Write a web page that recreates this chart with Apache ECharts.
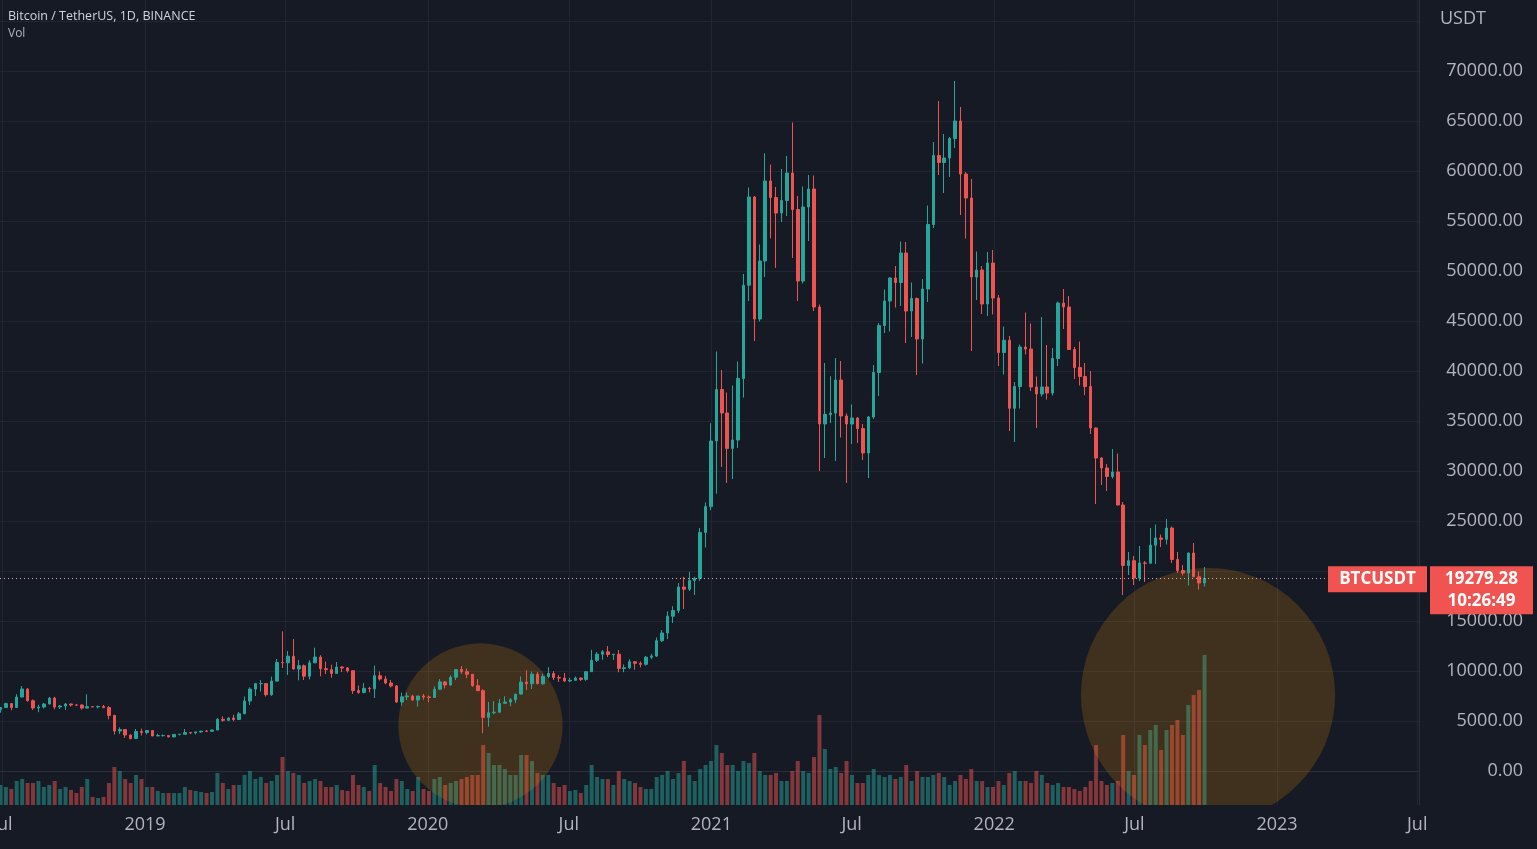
<!DOCTYPE html>
<html><head><meta charset="utf-8">
<script src="https://cdn.jsdelivr.net/npm/echarts@6/dist/echarts.min.js"></script>
<style>html,body{margin:0;padding:0;background:#161a25;overflow:hidden}#c{width:1537px;height:849px}</style>
</head><body><div id="c"></div>
<script>
// Weekly candles (Binance BTC/USDT), week starting 2018-06-25 (Mondays)
const firstWeek = '2018-06-25';
const opens = [
6150,6350,6740,6350,7400,8200,7030,6300,6400,6700,7290,6400,6500,6700,6600,6590,6290,6430,6410,6450,6340,5560,4000,4140,3600,3250,3950,3850,
4050,3510,3540,3540,3410,3660,3670,3840,3810,3910,3990,3970,4100,5170,5070,5300,5150,5720,7000,8190,8730,8740,7630,8990,10850,10820,11480,10200,10530,9480,10820,11390,10230,10140,9760,10400,10300,10030,8040,7860,8270,8220,9530,9200,8800,8500,6900,7420,7500,7100,7500,7400,
7350,8180,8910,8600,9380,10150,9930,9670,8530,8030,5360,5830,5880,6770,6900,7120,7690,8890,8730,9680,8720,9450,9750,9340,9300,9000,9070,9300,9160,9930,11070,11680,11920,11650,11680,10250,10320,10920,10770,10670,11380,11500,13030,13800,15480,16050,18400,18180,19050,19270,23860,26440,
33000,38150,35800,32260,33100,39250,48580,57400,45200,51000,59000,57350,55800,57050,59800,56150,49000,56400,58200,46400,34700,35650,35800,39100,35500,34700,35300,34250,31800,35400,39850,44550,47000,49300,48850,51800,46000,47250,43200,48200,54650,61550,60850,61300,63250,65000,59700,57300,49400,50100,46700,50800,
47300,41850,43080,36270,38450,42400,42200,38400,37700,38400,37800,41250,46800,46400,42150,40350,39450,38450,34300,31300,30300,29450,29900,26600,20550,21030,19300,20800,20780,22580,23300,23170,24300,21150,20050,19800,21800,19420,18800];
const highs = [
6390,6840,6780,7690,8500,8280,7150,6620,6800,7410,7420,6590,6800,6750,6670,6700,7680,6500,6540,6600,6500,5620,4360,4190,3660,4200,4240,4100,
4100,3730,3660,3560,3700,3700,4200,3880,3920,4000,4090,4140,5300,5470,5350,5630,5900,7450,8370,8800,9090,8780,9440,11200,13970,12000,13200,11100,10650,11080,12330,11580,10950,10630,10900,10480,10400,10040,8550,8800,8420,10540,9950,9500,9100,8600,7850,7850,7620,7500,7700,7550,
8460,9190,8990,9570,10170,10500,10250,9700,9190,8180,6900,6980,7200,7470,7300,7700,9460,10070,9950,9900,9740,10390,9990,9590,9800,9310,9450,9340,9980,12120,11900,12100,12490,11710,12090,10650,11180,10990,10950,11500,11720,13350,14100,15960,16480,18800,19420,19920,19430,24300,26870,34780,
41950,40100,37850,38550,40950,49700,58350,57500,52650,61780,60650,58400,60200,61500,64850,57500,58450,59600,59550,46650,40800,39480,41300,41000,35750,36650,35400,34700,35500,40600,44800,48150,49400,50500,52950,52900,48850,47350,49200,56550,62900,67000,63700,63400,69000,66400,59900,59200,51950,50500,51900,52100,
47600,44450,43500,38900,42650,45850,44750,39450,45400,42600,42300,46950,48200,47500,42400,42950,40800,40000,34350,31400,30700,32200,31750,26900,21900,21500,22500,21000,24300,24650,23650,25200,24450,21900,20600,21850,22800,19950,20400];
const lows = [
5826,6300,6070,6300,7380,6930,6100,5880,6250,6660,6170,6200,6100,6440,6500,6140,6280,6380,6260,6280,5170,3650,3700,3300,3160,3230,3550,3650,
3470,3480,3440,3370,3370,3560,3660,3690,3670,3830,3930,3900,4090,4930,4990,4980,5130,5700,6600,7500,7950,7440,7510,8970,10300,9600,10150,9070,9100,9160,10780,9470,9700,9320,9740,9900,9850,7710,7720,7760,7870,7300,9050,8680,8350,6790,6520,7100,7040,6440,7130,6870,
7340,8100,8250,8550,9090,9720,9300,8410,8000,3780,4440,5670,5860,6750,6470,6790,7650,8100,8200,8700,8630,9270,9100,8900,8900,8900,9050,9000,9020,9900,10900,11120,11400,11110,9880,9880,10200,10140,10370,10530,11180,11400,12900,13200,14800,15790,16200,18000,17600,19000,22350,26080,
27730,30400,28800,29200,32300,37350,47000,43000,44950,49400,53270,50310,54900,55500,51300,47000,48750,53000,46000,30000,31300,34800,31000,33350,28800,32700,32800,31100,29300,35200,37500,43800,43950,46350,46500,42800,43400,39600,40750,46900,54300,59600,57800,59400,62300,55600,53250,42000,47100,45700,45500,45650,
40500,39650,34000,32900,36250,41650,38000,34300,37450,37150,37550,40500,44200,42100,39200,38550,37580,33700,26700,28600,28000,29250,26550,17600,19600,18600,19000,18900,20750,20700,22400,22650,20800,19800,19550,18550,19600,18150,18450];
const closes = [
6350,6740,6350,7400,8200,7030,6300,6400,6700,7290,6400,6500,6700,6600,6590,6290,6430,6410,6450,6340,5560,4000,4140,3600,3250,3950,3850,4050,
3510,3540,3540,3410,3660,3670,3840,3810,3910,3990,3970,4100,5170,5070,5300,5150,5720,7000,8190,8730,8740,7630,8990,10850,10820,11480,10200,10530,9480,10820,11390,10230,10140,9760,10400,10300,10030,8040,7860,8270,8220,9530,9200,8800,8500,6900,7420,7500,7100,7500,7400,7350,
8180,8910,8600,9380,10150,9930,9670,8530,8030,5360,5830,5880,6770,6900,7120,7690,8890,8730,9680,8720,9450,9750,9340,9300,9000,9070,9300,9160,9930,11070,11680,11920,11650,11680,10250,10320,10920,10770,10670,11380,11500,13030,13800,15480,16050,18400,18180,19050,19270,23860,26440,33000,
38150,35800,32260,33100,39250,48580,57400,45200,51000,59000,57350,55800,57050,59800,56150,49000,56400,58200,46400,34700,35650,35800,39100,35500,34700,35300,34250,31800,35400,39850,44550,47000,49300,48850,51800,46000,47250,43200,48200,54650,61550,60850,61300,63250,65000,59700,57300,49400,50100,46700,50800,47300,
41850,43080,36270,38450,42400,42200,38400,37700,38400,37800,41250,46800,46400,42150,40350,39450,38450,34300,31300,30300,29450,29900,26600,20550,21030,19300,20800,20780,22580,23300,23170,24300,21150,20050,19800,21800,19420,18800,19279.28];
// weekly volume, thousand BTC (average daily level)
const volumes = [
80,72,64,96,104,88,88,96,72,80,96,64,72,60,48,72,104,32,28,32,88,152,136,104,88,120,104,72,
72,56,48,48,48,48,72,60,56,52,48,52,128,88,64,80,80,120,136,104,112,88,96,120,192,136,128,120,88,96,104,96,72,72,80,60,56,120,80,72,56,160,88,72,56,104,96,64,56,112,64,56,
104,112,80,88,96,104,112,120,120,240,208,160,160,144,120,120,200,200,176,128,120,120,88,72,80,56,60,48,80,160,112,104,104,80,136,104,96,88,72,64,64,112,120,136,104,128,176,120,96,144,160,176,
240,208,160,160,136,176,168,208,136,120,120,128,96,96,136,176,136,128,192,360,224,144,152,128,176,120,88,88,120,144,120,112,120,104,112,160,96,136,112,112,120,128,112,80,96,120,104,144,96,96,72,72,
96,80,128,136,96,96,88,136,120,88,80,88,72,72,64,56,72,96,240,96,80,88,96,280,136,120,280,240,300,320,220,300,320,340,280,400,440,460,600];

const xTickDates = ['2018-07-01','2019-01-01','2019-07-01','2020-01-01','2020-07-01','2021-01-01','2021-07-01','2022-01-01','2022-07-01','2023-01-01','2023-07-01'];
const xTickLabels = ['Jul','2019','Jul','2020','Jul','2021','Jul','2022','Jul','2023','Jul'];
const priceTicks = [0,5000,10000,15000,20000,25000,30000,35000,40000,45000,50000,55000,60000,65000,70000];
const priceGridTicks = priceTicks.concat([75000]);

// annotation circles: center (date, price) and a point on the rim (date)
const circleCenters = [['2020-03-09', 4550], ['2022-10-04', 7600]];
const circleRimDates = ['2020-06-23', '2023-03-17'];

const symbolName = 'BTCUSDT';
const countdown = '10:26:49';

const DAY = 86400000;
const ts = s => Date.parse(s + 'T00:00:00Z');
const t0 = ts(firstWeek);
const weekTimes = opens.map((_, i) => t0 + i * 7 * DAY + 3.5 * DAY);
const xTicks = xTickDates.map(ts);
const labelMap = {}; xTicks.forEach((t, i) => labelMap[t] = xTickLabels[i]);
const last = closes[closes.length - 1];

const UP = '#26a69a', DOWN = '#ef5350';
const FONT = '"Open Sans", "Noto Sans", sans-serif';
const xMin = ts('2019-01-01') - 187.1 * DAY;
const xMax = ts('2019-01-01') + 1644.3 * DAY;

const candleData = opens.map((o, i) => [weekTimes[i], o, closes[i], lows[i], highs[i]]);
const volData = volumes.map((v, i) => ({
  value: [weekTimes[i], v],
  itemStyle: { color: closes[i] >= opens[i] ? 'rgba(38,166,154,0.5)' : 'rgba(239,83,80,0.5)' }
}));
const circleData = circleCenters.map((c, i) => [ts(c[0]), c[1], ts(circleRimDates[i])]);

const chart = echarts.init(document.getElementById('c'), null, { renderer: 'canvas' });
const gridPos = { left: 0, right: 118, top: 0, bottom: 44, containLabel: false, outerBoundsMode: 'none' };
chart.setOption({
  animation: false,
  backgroundColor: '#161a25',
  title: {
    text: 'Bitcoin / TetherUS, 1D, BINANCE', left: 8, top: 10, padding: 0,
    textStyle: { color: '#d1d4dc', fontSize: 12.5, fontWeight: 'normal', fontFamily: FONT },
    subtext: 'Vol', itemGap: 5,
    subtextStyle: { color: '#b2b5be', fontSize: 12, fontFamily: FONT }
  },
  grid: [Object.assign({}, gridPos), Object.assign({}, gridPos)],
  xAxis: [{
    type: 'value', gridIndex: 0, min: xMin, max: xMax, scale: true,
    axisLine: { show: true, lineStyle: { color: '#2a2e39' } },
    axisTick: { show: false, customValues: xTicks },
    axisLabel: { customValues: xTicks, formatter: v => labelMap[v] || '', color: '#b2b5be', fontSize: 18, margin: 11, fontFamily: FONT },
    splitLine: { show: true, lineStyle: { color: '#222632', width: 1 } }
  }, {
    type: 'value', gridIndex: 1, min: xMin, max: xMax, scale: true, show: false, splitLine: { show: false }
  }],
  yAxis: [{
    type: 'value', gridIndex: 0, position: 'right', min: -3400, max: 77100, scale: true,
    axisLine: { show: true, lineStyle: { color: '#2a2e39' } },
    axisTick: { show: false, customValues: priceGridTicks },
    axisLabel: { customValues: priceTicks, formatter: v => Math.abs(v - last) < 2000 ? '' : v.toFixed(2), color: '#b2b5be', fontSize: 18, align: 'right', margin: 104, fontFamily: FONT },
    splitLine: { show: true, lineStyle: { color: '#222632', width: 1 } }
  }, {
    type: 'value', gridIndex: 1, min: 0, max: 3220, show: false, splitLine: { show: false }
  }],
  series: [{
    type: 'bar', name: 'Vol', xAxisIndex: 1, yAxisIndex: 1, data: volData, barWidth: 4, z: 1, silent: true
  }, {
    type: 'custom', xAxisIndex: 0, yAxisIndex: 0, clip: true, z: 2, silent: true,
    encode: { x: [0, 2], y: 1 },
    data: circleData,
    renderItem: (params, api) => {
      const c = api.coord([api.value(0), api.value(1)]);
      const e = api.coord([api.value(2), api.value(1)]);
      return { type: 'circle', shape: { cx: c[0], cy: c[1], r: Math.abs(e[0] - c[0]) }, style: { fill: 'rgba(255,152,0,0.18)' } };
    }
  }, {
    type: 'candlestick', name: 'BTCUSDT', xAxisIndex: 0, yAxisIndex: 0, z: 3,
    encode: { x: 0, y: [1, 2, 3, 4] },
    data: candleData, barWidth: 3,
    itemStyle: { color: UP, color0: DOWN, borderColor: UP, borderColor0: DOWN, borderWidth: 1 },
    markLine: {
      silent: true, symbol: ['none', 'none'], label: { show: false },
      lineStyle: { color: '#e3b1b0', type: [1, 3], width: 1 },
      data: [{ yAxis: last }]
    }
  }]
});

const py = chart.convertToPixel({ yAxisIndex: 0 }, last);
chart.setOption({
  graphic: [
    { type: 'text', left: 1440, top: 10, style: { text: 'USDT', fill: '#b2b5be', font: '18px ' + FONT } },
    { type: 'rect', shape: { x: 1328, y: py - 12, width: 99, height: 26 }, style: { fill: '#f05350' }, z: 10 },
    { type: 'text', x: 1377.5, y: py + 1, style: { text: symbolName, fill: '#ffffff', font: 'bold 17px ' + FONT, align: 'center', verticalAlign: 'middle' }, z: 11 },
    { type: 'rect', shape: { x: 1430, y: py - 12, width: 103, height: 48 }, style: { fill: '#f05350' }, z: 10 },
    { type: 'text', x: 1481.5, y: py + 1, style: { text: last.toFixed(2), fill: '#ffffff', font: 'bold 17px ' + FONT, align: 'center', verticalAlign: 'middle' }, z: 11 },
    { type: 'text', x: 1481.5, y: py + 23, style: { text: countdown, fill: '#ffffff', font: 'bold 17px ' + FONT, align: 'center', verticalAlign: 'middle' }, z: 11 }
  ]
});
</script>
</body></html>
